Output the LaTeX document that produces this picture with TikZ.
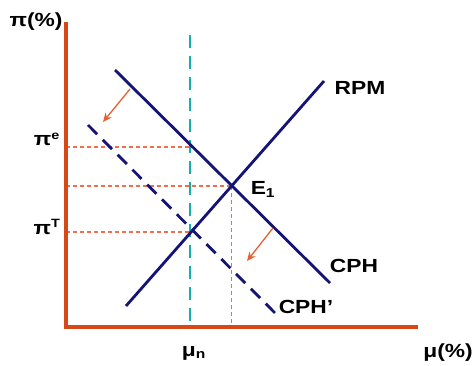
\documentclass[tikz,border=0pt]{standalone}
\usepackage{fontspec}
\usepackage{graphicx}
\usetikzlibrary{arrows.meta}
\setmainfont{Liberation Sans}
\definecolor{axisc}{RGB}{214,72,24}
\definecolor{navy}{RGB}{20,20,120}
\definecolor{guide}{RGB}{238,110,80}
\definecolor{arrowc}{RGB}{232,96,50}
\definecolor{tealc}{RGB}{20,175,170}
\begin{document}
\begin{tikzpicture}[x=1pt,y=-1pt,
  axisline/.style={draw=axisc,line width=3.6pt},
  curve/.style={draw=navy,line width=2.8pt},
  dcurve/.style={draw=navy,line width=2.8pt,dash pattern=on 13pt off 8pt},
  guideline/.style={draw=guide,line width=1.1pt,dash pattern=on 4pt off 3pt},
  natural/.style={draw=tealc,line width=2.6pt,dash pattern=on 13pt off 8pt},
  shiftarrow/.style={draw=arrowc,line width=1.3pt,-{Stealth[length=9pt,width=8pt]}},
  lbl/.style={font=\bfseries\fontsize{19}{22}\selectfont,inner sep=0pt}]
\useasboundingbox (0,0) rectangle (473,366);
% coordinates
\coordinate (O) at (66,327);
\coordinate (Ytop) at (66,22);
\coordinate (Xend) at (418,327);
\coordinate (RPMa) at (126,306);
\coordinate (RPMb) at (324,81);
\coordinate (CPHa) at (115,70);
\coordinate (CPHb) at (330,283);
\coordinate (CPHpa) at (88,125);
\coordinate (CPHpb) at (275,313);
\coordinate (Ntop) at (190,35);
\coordinate (Nbot) at (190,327);
\coordinate (E1) at (231.5,186);
\coordinate (PeL) at (66,147);
\coordinate (PeR) at (190,147);
\coordinate (EL) at (66,186);
\coordinate (PtL) at (66,232);
\coordinate (PtR) at (190,232);
\coordinate (Ebot) at (231.5,327);
\coordinate (A1s) at (130,89);
\coordinate (A1e) at (103,122);
\coordinate (A2s) at (273,228);
\coordinate (A2e) at (247,261);
% guides
\draw[guideline] (PeL) -- (PeR);
\draw[guideline] (EL) -- (E1);
\draw[guideline] (PtL) -- (PtR);
\draw[guideline,line width=1.4pt] (E1) -- (Ebot);
\draw[natural] (Ntop) -- (Nbot);
% curves
\draw[curve] (RPMa) -- (RPMb);
\draw[curve] (CPHa) -- (CPHb);
\draw[dcurve] (CPHpa) -- (CPHpb);
% arrows
\draw[shiftarrow] (A1s) -- (A1e);
\draw[shiftarrow] (A2s) -- (A2e);
% axes
\draw[axisline,line join=miter] (Ytop) -- (O) -- (Xend);
% labels
\node[lbl] (ylab) at (36,22) {\scalebox{1.2}[1]{π(\%)}};
\node[lbl] (pie) at (47,139) {\scalebox{1.2}[1]{π\textsuperscript{\fontsize{12}{13}\selectfont e}}};
\node[lbl] (pit) at (47,227) {\scalebox{1.2}[1]{π\textsuperscript{\fontsize{12}{13}\selectfont T}}};
\node[lbl] (rpm) at (360,88) {\scalebox{1.2}[1]{RPM}};
\node[lbl] (e1) at (263,189) {\scalebox{1.2}[1]{E\textsubscript{\fontsize{13}{14}\selectfont 1}}};
\node[lbl] (cph) at (354,266) {\scalebox{1.2}[1]{CPH}};
\node[lbl] (cphp) at (306,307) {\scalebox{1.2}[1]{CPH’}};
\node[lbl] (mun) at (194,353) {\scalebox{1.2}[1]{μ\textsubscript{\fontsize{13}{14}\selectfont n}}};
\node[lbl] (xlab) at (448,353) {\scalebox{1.2}[1]{μ(\%)}};
\end{tikzpicture}
\end{document}
